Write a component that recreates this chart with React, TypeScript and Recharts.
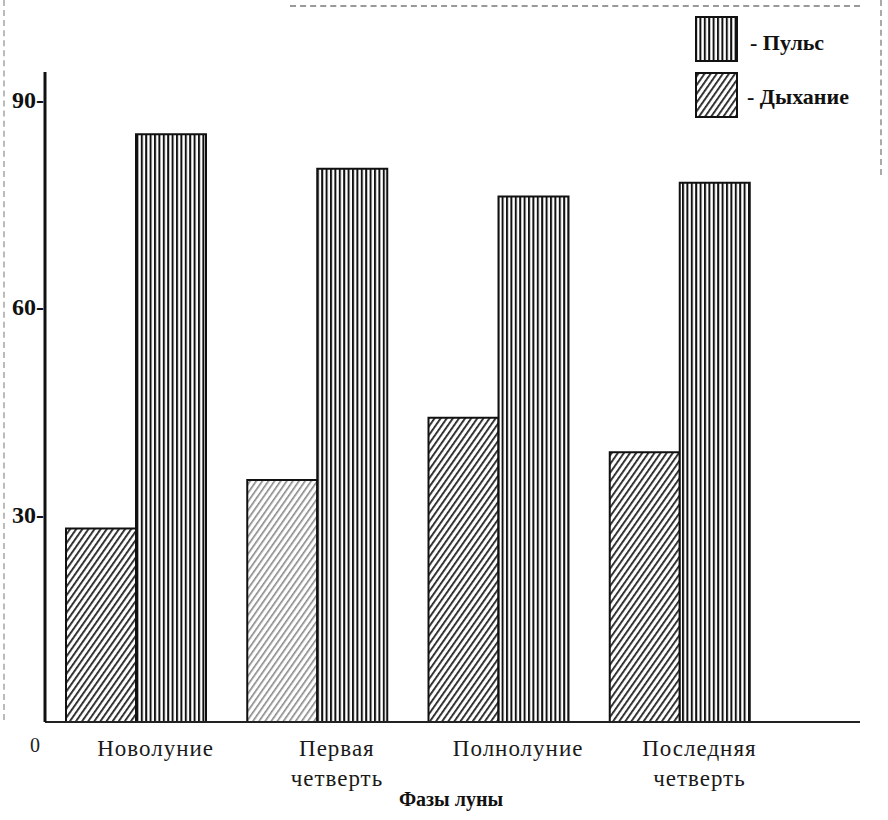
import { Bar, BarChart, Cell, XAxis, YAxis } from "recharts";

const phases = ["Новолуние", "Первая четверть", "Полнолуние", "Последняя четверть"];
const pulse = [85, 80, 76, 78];
const breath = [28, 35, 44, 39];
const yTicks = [0, 30, 60, 90];

const rows = phases.map((phase, i) => ({ phase, pulse: pulse[i], breath: breath[i] }));

const serif = "'Liberation Serif', 'Times New Roman', Times, serif";

function YTick({ x, y, payload }: any) {
  if (payload.value === 0) {
    return (
      <text x={x - 2} y={y + 30} textAnchor="middle" fontFamily={serif} fontSize={20} fill="#222">
        0
      </text>
    );
  }
  return (
    <text x={x + 7} y={y + 8} textAnchor="end" fontFamily={serif} fontSize={24} fontWeight="bold" fill="#111">
      {payload.value}-
    </text>
  );
}

function XTick({ x, y, payload }: any) {
  const words = String(payload.value).split(" ");
  return (
    <text textAnchor="middle" fontFamily={serif} fontSize={23} fill="#1a1a1a" letterSpacing={1}>
      {words.map((w, i) => (
        <tspan key={i} x={x + 20} y={y + 26 + i * 30}>
          {w}
        </tspan>
      ))}
    </text>
  );
}

function LegendBox() {
  return (
    <div style={{ position: "absolute", left: 695, top: 16, width: 190, height: 110, fontFamily: serif }}>
      <svg width={44} height={104} style={{ position: "absolute", left: 0, top: 0 }}>
        <rect x={1} y={1} width={41} height={44} fill="url(#vstripe)" stroke="#111" strokeWidth={2} />
        <rect x={1} y={57} width={41} height={44} fill="url(#dhatch)" stroke="#111" strokeWidth={2} />
      </svg>
      <div style={{ position: "absolute", left: 55, top: 14, fontSize: 22, fontWeight: "bold", color: "#111" }}>
        - Пульс
      </div>
      <div style={{ position: "absolute", left: 52, top: 68, fontSize: 22, fontWeight: "bold", color: "#111" }}>
        - Дыхание
      </div>
    </div>
  );
}

export default function App() {
  return (
    <div style={{ position: "absolute", left: 0, top: 0, width: 888, height: 820, background: "#fff" }}>
      <div style={{ position: "absolute", left: 3, top: 0, width: 0, height: 720, borderLeft: "2px dashed #bbb" }} />
      <div style={{ position: "absolute", left: 290, top: 5, width: 570, height: 0, borderTop: "2px dashed #999" }} />
      <div style={{ position: "absolute", left: 880, top: 0, width: 0, height: 175, borderLeft: "2px dashed #aaa" }} />
      <BarChart
        width={888}
        height={820}
        data={rows}
        margin={{ top: 72, right: 28, bottom: 0, left: 0 }}
        barGap={0}
        barCategoryGap={20}
      >
        <defs>
          <pattern id="vstripe" width={4.4} height={10} patternUnits="userSpaceOnUse">
            <rect width={4.4} height={10} fill="#fff" />
            <rect x={0} width={2} height={10} fill="#111" />
          </pattern>
          <pattern id="dhatch" width={5} height={10} patternUnits="userSpaceOnUse" patternTransform="rotate(35)">
            <rect width={5} height={10} fill="#fff" />
            <rect x={0} width={1.8} height={10} fill="#222" />
          </pattern>
          <pattern id="dhatchLight" width={5} height={10} patternUnits="userSpaceOnUse" patternTransform="rotate(35)">
            <rect width={5} height={10} fill="#fff" />
            <rect x={0} width={1.6} height={10} fill="#888" />
          </pattern>
        </defs>
        <XAxis
          dataKey="phase"
          height={98}
          padding={{ left: 0, right: 90 }}
          tickLine={false}
          axisLine={{ stroke: "#222", strokeWidth: 2 }}
          tick={<XTick />}
          interval={0}
        />
        <YAxis
          width={45}
          domain={[0, 94]}
          ticks={yTicks}
          tickLine={false}
          axisLine={{ stroke: "#111", strokeWidth: 3 }}
          tick={<YTick />}
          interval={0}
        />
        <Bar dataKey="breath" barSize={70} fill="url(#dhatch)" stroke="#111" strokeWidth={2} isAnimationActive={false}>
          {rows.map((_, i) => (
            <Cell key={i} fill={i === 1 ? "url(#dhatchLight)" : "url(#dhatch)"} />
          ))}
        </Bar>
        <Bar dataKey="pulse" barSize={70} fill="url(#vstripe)" stroke="#111" strokeWidth={2} isAnimationActive={false} />
      </BarChart>
      <LegendBox />
      <div
        style={{
          position: "absolute",
          left: 0,
          width: 888,
          top: 788,
          textAlign: "center",
          fontFamily: serif,
          fontSize: 20,
          fontWeight: "bold",
          color: "#111",
          paddingLeft: 14,
          boxSizing: "border-box",
        }}
      >
        Фазы луны
      </div>
    </div>
  );
}
